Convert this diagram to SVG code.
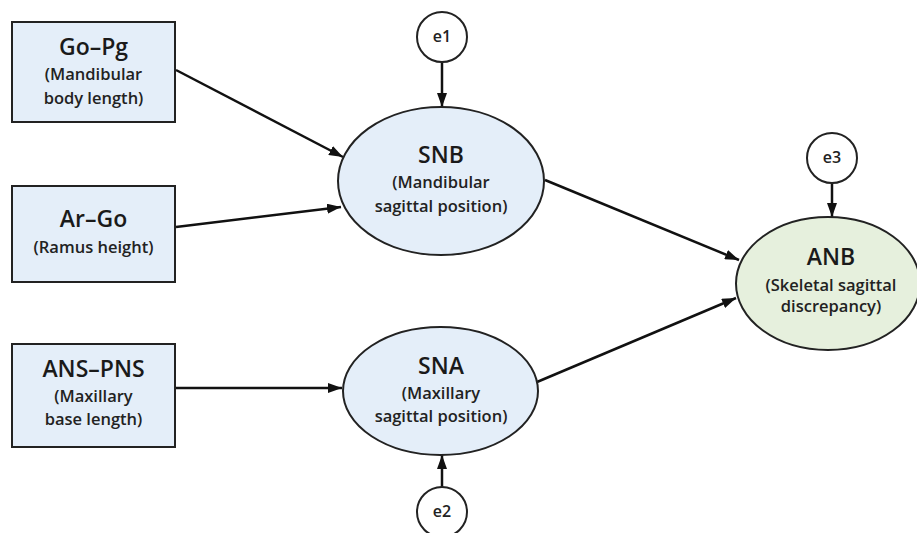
<svg xmlns="http://www.w3.org/2000/svg" width="917" height="533" viewBox="0 0 917 533">
<defs>
<marker id="arr" viewBox="0 0 14 10" refX="14" refY="5" markerWidth="14" markerHeight="10" markerUnits="userSpaceOnUse" orient="auto">
<path d="M0,0 L14,5 L0,10 Z" fill="#111"/>
</marker>
<style>
.box{fill:#e4eef9;stroke:#222;stroke-width:2}
.ell{fill:#e4eef9;stroke:#222;stroke-width:2}
.ellg{fill:#e6f0dd;stroke:#222;stroke-width:2}
.err{fill:#fff;stroke:#222;stroke-width:2}
.t{font-family:"Open Sans","Noto Sans","DejaVu Sans",sans-serif;font-size:23px;font-weight:600;fill:#1a1a1a;text-anchor:middle}
.s{font-family:"Open Sans","Noto Sans","DejaVu Sans",sans-serif;font-size:16.5px;font-weight:600;fill:#222;text-anchor:middle}
.e{font-family:"Open Sans","Noto Sans","DejaVu Sans",sans-serif;font-size:16px;font-weight:600;fill:#222;text-anchor:middle}
.c{stroke:#111;stroke-width:2.5;fill:none;marker-end:url(#arr)}
</style>
</defs>
<rect width="917" height="533" fill="#fff"/>
<g id="connectors">
<line class="c" x1="176" y1="70" x2="343" y2="157"/>
<line class="c" x1="176" y1="227" x2="341" y2="207"/>
<line class="c" x1="176" y1="388" x2="342" y2="388"/>
<line class="c" x1="545" y1="180" x2="739" y2="260"/>
<line class="c" x1="537" y1="382" x2="736" y2="298"/>
<line class="c" x1="442" y1="62" x2="442" y2="107"/>
<line class="c" x1="442" y1="487" x2="442" y2="455"/>
<line class="c" x1="832" y1="183" x2="832" y2="217"/>
</g>
<g id="gopg">
<rect class="box" x="12" y="22" width="163" height="100"/>
<text class="t" x="93.5" y="55">Go–Pg</text>
<text class="s" x="93.5" y="80">(Mandibular</text>
<text class="s" x="93.5" y="104">body length)</text>
</g>
<g id="argo">
<rect class="box" x="12" y="186" width="163" height="96"/>
<text class="t" x="93.5" y="227">Ar–Go</text>
<text class="s" x="93.5" y="253">(Ramus height)</text>
</g>
<g id="anspns">
<rect class="box" x="12" y="344" width="163" height="103"/>
<text class="t" x="93.5" y="377">ANS–PNS</text>
<text class="s" x="93.5" y="402">(Maxillary</text>
<text class="s" x="93.5" y="425">base length)</text>
</g>
<g id="snb">
<ellipse class="ell" cx="441" cy="181" rx="103" ry="74"/>
<text class="t" x="441" y="163">SNB</text>
<text class="s" x="441" y="188">(Mandibular</text>
<text class="s" x="441" y="212">sagittal position)</text>
</g>
<g id="sna">
<ellipse class="ell" cx="440.5" cy="391" rx="97.5" ry="64"/>
<text class="t" x="441" y="374">SNA</text>
<text class="s" x="441" y="399">(Maxillary</text>
<text class="s" x="441" y="422">sagittal position)</text>
</g>
<g id="anb">
<ellipse class="ellg" cx="828" cy="283.5" rx="92" ry="66.5"/>
<text class="t" x="831" y="265">ANB</text>
<text class="s" x="831" y="291">(Skeletal sagittal</text>
<text class="s" x="831" y="312">discrepancy)</text>
</g>
<g id="e1">
<circle class="err" cx="442" cy="37" r="25"/>
<text class="e" x="442" y="42">e1</text>
</g>
<g id="e2">
<circle class="err" cx="442" cy="512" r="25"/>
<text class="e" x="442" y="517">e2</text>
</g>
<g id="e3">
<circle class="err" cx="832" cy="158" r="25"/>
<text class="e" x="832" y="163">e3</text>
</g>
</svg>
